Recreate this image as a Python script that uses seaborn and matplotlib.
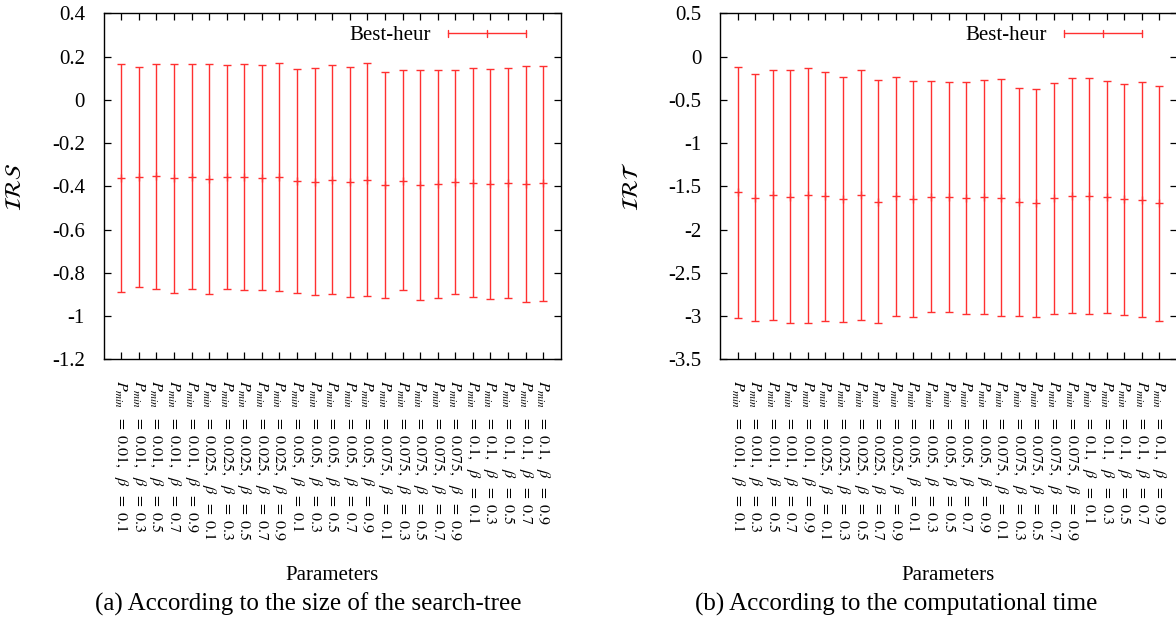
import numpy as np
import pandas as pd
import seaborn as sns
import matplotlib
matplotlib.use("Agg")
import matplotlib.pyplot as plt
from matplotlib.lines import Line2D
from matplotlib.legend_handler import HandlerBase
from matplotlib.ticker import FuncFormatter, MultipleLocator

# ---- data -------------------------------------------------------------
pmin_values = ["0.01", "0.025", "0.05", "0.075", "0.1"]
beta_values = ["0.1", "0.3", "0.5", "0.7", "0.9"]
tick_labels = [rf"$P_{{min}}\ \ =\ {p},\ \ \beta\ \ =\ {b}$" for p in pmin_values for b in beta_values]

# (a) size of the search-tree
irs_mean = [-0.361, -0.358, -0.354, -0.363, -0.355, -0.368, -0.357, -0.358, -0.360, -0.358,
            -0.375, -0.378, -0.372, -0.381, -0.371, -0.395, -0.375, -0.392, -0.391, -0.380,
            -0.383, -0.389, -0.385, -0.388, -0.386]
irs_high = [0.167, 0.150, 0.166, 0.166, 0.167, 0.164, 0.163, 0.167, 0.160, 0.169,
            0.144, 0.147, 0.159, 0.150, 0.169, 0.127, 0.136, 0.139, 0.136, 0.136,
            0.147, 0.141, 0.149, 0.156, 0.158]
irs_low = [-0.887, -0.867, -0.873, -0.892, -0.873, -0.896, -0.873, -0.881, -0.879, -0.884,
           -0.892, -0.901, -0.899, -0.910, -0.909, -0.918, -0.881, -0.924, -0.915, -0.896,
           -0.913, -0.919, -0.918, -0.933, -0.929]

# (b) computational time
irt_mean = [-1.569, -1.631, -1.600, -1.619, -1.604, -1.612, -1.650, -1.604, -1.677, -1.612,
            -1.646, -1.627, -1.619, -1.635, -1.627, -1.631, -1.681, -1.693, -1.639, -1.615,
            -1.612, -1.627, -1.650, -1.654, -1.693]
irt_high = [-0.120, -0.205, -0.155, -0.159, -0.128, -0.182, -0.232, -0.159, -0.271, -0.240,
            -0.278, -0.288, -0.290, -0.294, -0.271, -0.265, -0.359, -0.371, -0.302, -0.253,
            -0.250, -0.288, -0.317, -0.296, -0.336]
irt_low = [-3.018, -3.057, -3.049, -3.084, -3.084, -3.053, -3.072, -3.041, -3.084, -2.999,
           -3.011, -2.956, -2.953, -2.972, -2.980, -2.995, -2.995, -3.011, -2.976, -2.968,
           -2.980, -2.968, -2.991, -3.011, -3.057]

series_name = "Best-heur"
RED = "#ff3030"

# ---- style ------------------------------------------------------------
sns.set_theme(style="ticks")
plt.rcParams["font.family"] = ["Liberation Serif", "DejaVu Serif"]
plt.rcParams["mathtext.fontset"] = "stix"
plt.rcParams.update({
    "axes.edgecolor": "black", "text.color": "black", "axes.labelcolor": "black",
    "xtick.color": "black", "ytick.color": "black",
})


class GnuplotErrorbarHandler(HandlerBase):
    """Horizontal error-bar sample: line with end caps and a centre tick."""

    def create_artists(self, legend, orig_handle, xdescent, ydescent,
                       width, height, fontsize, trans):
        y = height / 2.0 - ydescent
        x0, x1 = -xdescent, -xdescent + width
        xm = (x0 + x1) / 2.0
        c = 2.6
        arts = [
            Line2D([x0, x1], [y, y]),
            Line2D([x0, x0], [y - c, y + c]),
            Line2D([x1, x1], [y - c, y + c]),
            Line2D([xm, xm], [y - c, y + c]),
        ]
        for a in arts:
            a.set_color(RED)
            a.set_linewidth(1.0)
            a.set_transform(trans)
        return arts


def fmt_g(v, _pos):
    return f"{v:g}"


def draw_panel(ax, mean, low, high, ylim, ystep, ylabel):
    df = pd.DataFrame({
        "x": np.arange(1, len(mean) + 1),
        "mean": mean, "low": low, "high": high,
    })
    ax.errorbar(df["x"], df["mean"],
                yerr=[df["mean"] - df["low"], df["high"] - df["mean"]],
                fmt="none", ecolor=RED, elinewidth=1.0, capsize=2.6, capthick=1.0)
    sns.scatterplot(data=df, x="x", y="mean", marker="+", color=RED, s=30,
                    linewidth=1.0, ax=ax, legend=False, zorder=3)

    ax.set_xlim(0, len(mean) + 1)
    ax.set_ylim(*ylim)
    ax.yaxis.set_major_locator(MultipleLocator(ystep))
    ax.yaxis.set_major_formatter(FuncFormatter(fmt_g))
    ax.set_xticks(df["x"])
    ax.set_xticklabels(tick_labels, rotation=-90, ha="center", va="top", fontsize=11.5)

    ax.tick_params(axis="both", direction="in", length=5, width=0.9,
                   top=True, right=True)
    ax.tick_params(axis="y", labelsize=15, pad=13.5)
    ax.tick_params(axis="x", pad=15)
    for sp in ax.spines.values():
        sp.set_linewidth(1.0)
        sp.set_color("black")

    ax.set_ylabel(ylabel, fontsize=16, va="center")
    ax.yaxis.set_label_coords(-0.19, 0.5)
    ax.set_xlabel("Parameters", fontsize=15, va="center")
    ax.xaxis.set_label_coords(0.5, -0.626)

    proxy = Line2D([], [], color=RED)
    ax.legend([proxy], [series_name], handler_map={Line2D: GnuplotErrorbarHandler()},
              loc="center right", bbox_to_anchor=(0.9234, 0.9353),
              frameon=False, markerfirst=False, fontsize=15,
              borderpad=0, borderaxespad=0, handlelength=3.75, handletextpad=0.8)


fig = plt.figure(figsize=(11.76, 6.26), dpi=100)
W, H = 1176.0, 626.0
ax_a = fig.add_axes([103.7 / W, 1 - 359.3 / H, 457 / W, 346 / H])
ax_b = fig.add_axes([720.0 / W, 1 - 359.3 / H, 457 / W, 346 / H])

draw_panel(ax_a, irs_mean, irs_low, irs_high, (-1.2, 0.4), 0.2, r"$\mathcal{IRS}$")
draw_panel(ax_b, irt_mean, irt_low, irt_high, (-3.5, 0.5), 0.5, r"$\mathcal{IRT}$")

fig.text(308 / W, 1 - 604 / H, "(a) According to the size of the search-tree",
         ha="center", va="center", fontsize=18)
fig.text(896 / W, 1 - 604 / H, "(b) According to the computational time",
         ha="center", va="center", fontsize=18)

fig.savefig("out.png", dpi=100)
